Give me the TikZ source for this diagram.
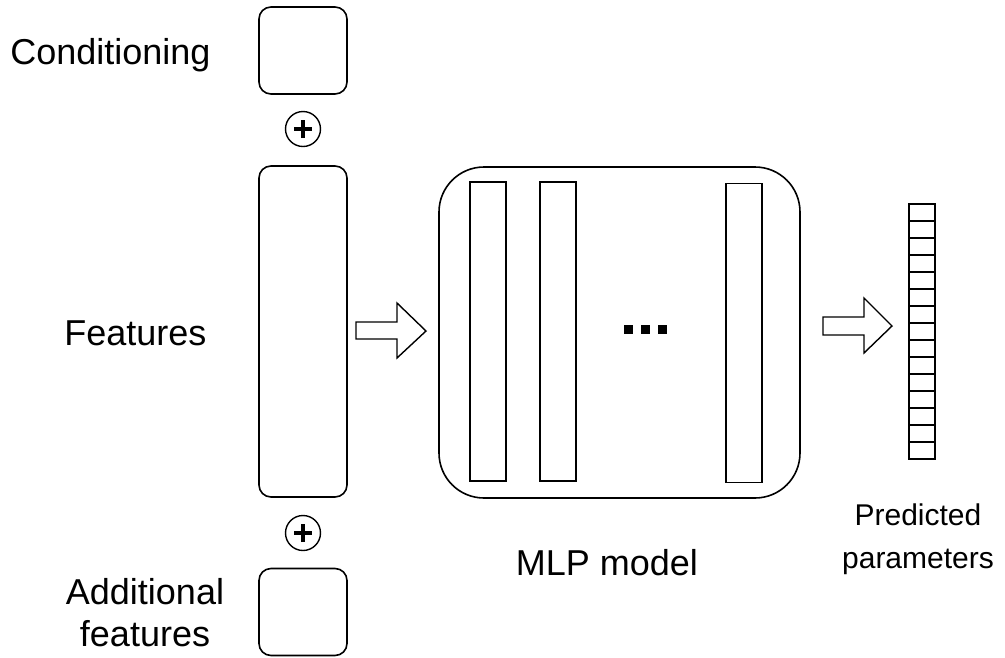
\documentclass[tikz,border=0pt]{standalone}
\usepackage{fontspec}
\setmainfont{Liberation Sans}
\begin{document}
\begin{tikzpicture}[x=1pt,y=-1pt,
  inbox/.style={draw,line width=1.6pt,rounded corners=12pt,inner sep=0pt,minimum width=88pt},
  layer/.style={draw,line width=1.6pt,inner sep=0pt,minimum width=36pt,minimum height=299pt},
  cell/.style={draw,line width=1.4pt,inner sep=0pt,minimum width=26pt,minimum height=17pt},
  plusc/.style={draw,circle,line width=1.4pt,inner sep=0pt,minimum size=35pt},
  dotsq/.style={fill=black,inner sep=0pt,minimum size=9pt},
  big/.style={font=\fontsize{36}{40}\selectfont},
  small/.style={font=\fontsize{30}{38}\selectfont,align=center},
  blockarrow/.style={draw,line width=1.4pt,line join=miter}]
\useasboundingbox (0,0) rectangle (1005,657);
% input boxes
\node[inbox,minimum height=87pt] (cond) at (303,50.5) {};
\node[inbox,minimum height=331pt] (feat) at (303,331.5) {};
\node[inbox,minimum height=87pt] (add) at (303,612) {};
\node[plusc] (p1) at (303,129) {};
\node[plusc] (p2) at (303,533) {};
\foreach \p in {p1,p2}{
  \draw[line width=4.4pt] ([xshift=-9pt]\p.center) -- ([xshift=9pt]\p.center);
  \draw[line width=4.4pt] ([yshift=-9pt]\p.center) -- ([yshift=9pt]\p.center);
}
% labels
\node[big,anchor=east] (lcond) at (214,55) {Conditioning};
\node[big,anchor=east] (lfeat) at (210,333) {Features};
\node[big,align=center,anchor=center] (ladd) at (145,613) {Additional\\[2pt]features};
% arrow 1
\draw[blockarrow] (356,322) -- (397,322) -- (397,303) -- (426,331) -- (397,358) -- (397,339) -- (356,339) -- cycle;
% MLP
\node[draw,line width=1.6pt,rounded corners=45pt,inner sep=0pt,minimum width=361pt,minimum height=331pt] (mlp) at (619.5,332.5) {};
\node[layer] (l1) at (488,331.5) {};
\node[layer] (l2) at (558,331.5) {};
\node[layer] (l3) at (744,333) {};
\node[dotsq] (d1) at (628.5,329.5) {};
\node[dotsq] (d2) at (645.5,329.5) {};
\node[dotsq] (d3) at (662.5,329.5) {};
\node[big] (lmlp) at (607,563) {MLP model};
% arrow 2
\draw[blockarrow] (823,317) -- (864,317) -- (864,298) -- (892,326) -- (864,353) -- (864,335) -- (823,335) -- cycle;
% output column
\foreach \i in {0,...,14}{
  \node[cell] (c\i) at (922,{212.5+17*\i}) {};
}
\node[small] (lpred) at (918,539) {Predicted\\[5pt]parameters};
\end{tikzpicture}
\end{document}
